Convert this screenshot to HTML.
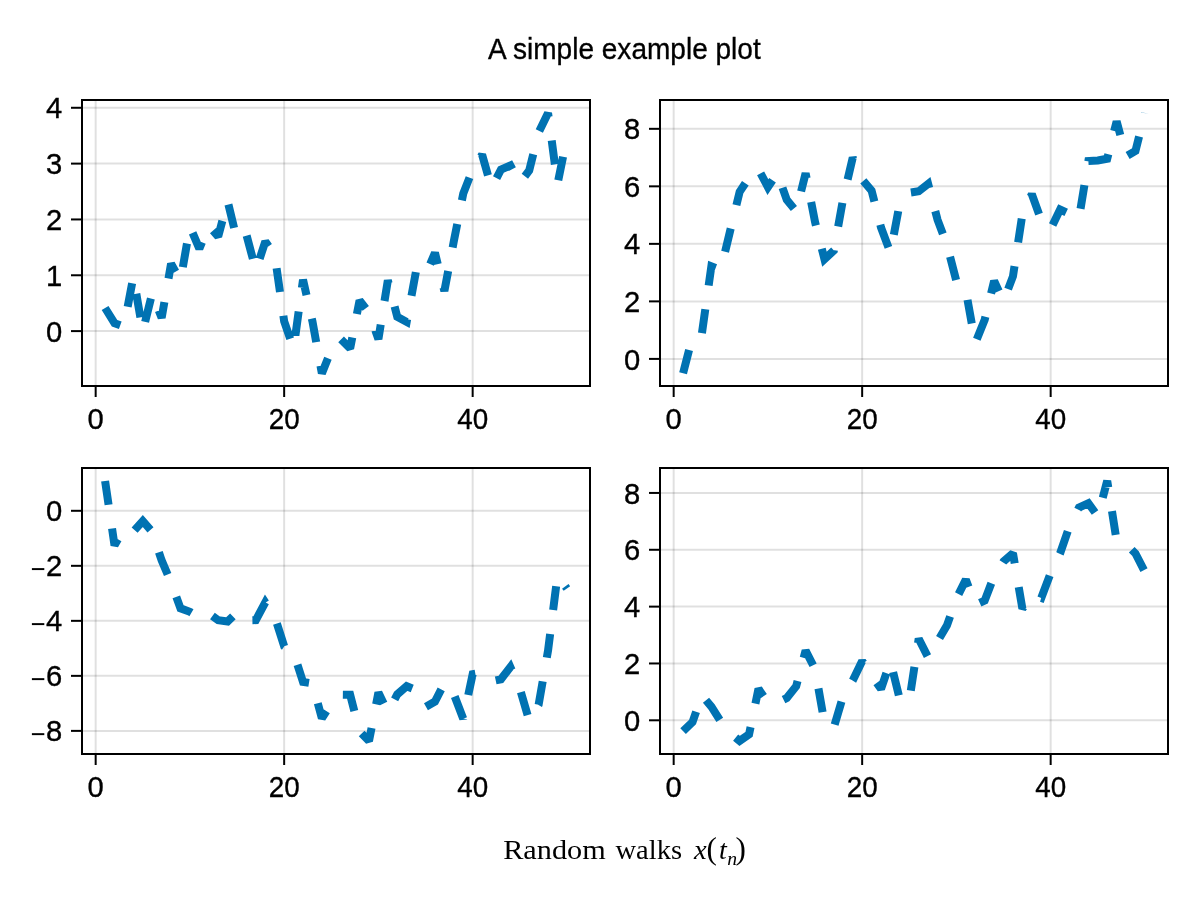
<!DOCTYPE html>
<html><head><meta charset="utf-8"><title>A simple example plot</title>
<style>
html,body{margin:0;padding:0;background:#fff;}
body{width:1200px;height:900px;overflow:hidden;}
svg{display:block;will-change:transform;}
.tx{filter:grayscale(1);}
.t{font-family:"Liberation Sans",sans-serif;font-size:29.2px;fill:#000;stroke:#000;stroke-width:0.35px;}
.s{font-family:"Liberation Serif",serif;font-size:28px;fill:#000;}
.i{font-style:italic;}
</style></head><body>
<svg width="1200" height="900" viewBox="0 0 1200 900">
<rect width="1200" height="900" fill="#fff"/>
<defs>
<clipPath id="c1"><rect x="82" y="100" width="508" height="286"/></clipPath>
<clipPath id="c2"><rect x="660" y="100" width="508" height="286"/></clipPath>
<clipPath id="c3"><rect x="82" y="468" width="508" height="286"/></clipPath>
<clipPath id="c4"><rect x="660" y="468" width="508" height="286"/></clipPath>
</defs>
<line x1="95.67" y1="100" x2="95.67" y2="386" stroke="#000" stroke-opacity="0.12" stroke-width="2"/>
<line x1="284.16" y1="100" x2="284.16" y2="386" stroke="#000" stroke-opacity="0.12" stroke-width="2"/>
<line x1="472.66" y1="100" x2="472.66" y2="386" stroke="#000" stroke-opacity="0.12" stroke-width="2"/>
<line x1="82" y1="331.10" x2="590" y2="331.10" stroke="#000" stroke-opacity="0.12" stroke-width="2"/>
<line x1="82" y1="275.27" x2="590" y2="275.27" stroke="#000" stroke-opacity="0.12" stroke-width="2"/>
<line x1="82" y1="219.44" x2="590" y2="219.44" stroke="#000" stroke-opacity="0.12" stroke-width="2"/>
<line x1="82" y1="163.61" x2="590" y2="163.61" stroke="#000" stroke-opacity="0.12" stroke-width="2"/>
<line x1="82" y1="107.78" x2="590" y2="107.78" stroke="#000" stroke-opacity="0.12" stroke-width="2"/>
<line x1="673.67" y1="100" x2="673.67" y2="386" stroke="#000" stroke-opacity="0.12" stroke-width="2"/>
<line x1="862.16" y1="100" x2="862.16" y2="386" stroke="#000" stroke-opacity="0.12" stroke-width="2"/>
<line x1="1050.66" y1="100" x2="1050.66" y2="386" stroke="#000" stroke-opacity="0.12" stroke-width="2"/>
<line x1="660" y1="358.90" x2="1168" y2="358.90" stroke="#000" stroke-opacity="0.12" stroke-width="2"/>
<line x1="660" y1="301.38" x2="1168" y2="301.38" stroke="#000" stroke-opacity="0.12" stroke-width="2"/>
<line x1="660" y1="243.86" x2="1168" y2="243.86" stroke="#000" stroke-opacity="0.12" stroke-width="2"/>
<line x1="660" y1="186.34" x2="1168" y2="186.34" stroke="#000" stroke-opacity="0.12" stroke-width="2"/>
<line x1="660" y1="128.82" x2="1168" y2="128.82" stroke="#000" stroke-opacity="0.12" stroke-width="2"/>
<line x1="95.67" y1="468" x2="95.67" y2="754" stroke="#000" stroke-opacity="0.12" stroke-width="2"/>
<line x1="284.16" y1="468" x2="284.16" y2="754" stroke="#000" stroke-opacity="0.12" stroke-width="2"/>
<line x1="472.66" y1="468" x2="472.66" y2="754" stroke="#000" stroke-opacity="0.12" stroke-width="2"/>
<line x1="82" y1="730.88" x2="590" y2="730.88" stroke="#000" stroke-opacity="0.12" stroke-width="2"/>
<line x1="82" y1="675.86" x2="590" y2="675.86" stroke="#000" stroke-opacity="0.12" stroke-width="2"/>
<line x1="82" y1="620.84" x2="590" y2="620.84" stroke="#000" stroke-opacity="0.12" stroke-width="2"/>
<line x1="82" y1="565.82" x2="590" y2="565.82" stroke="#000" stroke-opacity="0.12" stroke-width="2"/>
<line x1="82" y1="510.80" x2="590" y2="510.80" stroke="#000" stroke-opacity="0.12" stroke-width="2"/>
<line x1="673.67" y1="468" x2="673.67" y2="754" stroke="#000" stroke-opacity="0.12" stroke-width="2"/>
<line x1="862.16" y1="468" x2="862.16" y2="754" stroke="#000" stroke-opacity="0.12" stroke-width="2"/>
<line x1="1050.66" y1="468" x2="1050.66" y2="754" stroke="#000" stroke-opacity="0.12" stroke-width="2"/>
<line x1="660" y1="720.30" x2="1168" y2="720.30" stroke="#000" stroke-opacity="0.12" stroke-width="2"/>
<line x1="660" y1="663.46" x2="1168" y2="663.46" stroke="#000" stroke-opacity="0.12" stroke-width="2"/>
<line x1="660" y1="606.62" x2="1168" y2="606.62" stroke="#000" stroke-opacity="0.12" stroke-width="2"/>
<line x1="660" y1="549.78" x2="1168" y2="549.78" stroke="#000" stroke-opacity="0.12" stroke-width="2"/>
<line x1="660" y1="492.94" x2="1168" y2="492.94" stroke="#000" stroke-opacity="0.12" stroke-width="2"/>
<polyline clip-path="url(#c1)" points="105.09,308.00 114.52,323.20 123.94,326.60 133.37,276.70 142.79,331.40 152.22,293.20 161.64,317.90 171.06,263.80 180.49,280.70 189.91,226.60 199.34,248.60 208.76,225.90 218.19,236.50 227.61,201.10 237.04,240.00 246.46,234.90 255.89,270.30 265.31,241.50 274.74,255.20 284.16,321.30 293.59,348.70 303.01,279.70 312.44,321.40 321.86,373.40 331.29,350.10 340.71,339.00 350.14,348.50 359.56,300.40 368.99,312.60 378.41,339.10 387.84,280.30 397.26,316.80 406.69,321.90 416.11,270.60 425.54,275.20 434.96,252.80 444.39,291.00 453.81,241.30 463.24,193.60 472.66,169.50 482.09,154.60 491.51,187.90 500.94,169.70 510.36,165.50 519.78,182.90 529.21,170.50 538.63,132.40 548.06,112.90 557.48,184.20 566.91,137.90" fill="none" stroke="#0072B2" stroke-width="8" stroke-dasharray="24 24" stroke-linejoin="miter" stroke-miterlimit="2" stroke-linecap="butt"/>
<polyline clip-path="url(#c2)" points="683.09,373.20 692.52,336.50 701.94,333.20 711.37,266.30 720.79,269.80 730.22,230.50 739.64,191.90 749.06,177.60 758.49,169.20 767.91,187.20 777.34,173.20 786.76,199.80 796.19,211.20 805.61,173.20 815.04,222.00 824.46,259.20 833.89,250.50 843.31,197.80 852.74,157.70 862.16,179.60 871.59,190.60 881.01,227.50 890.44,252.70 899.86,202.60 909.29,192.70 918.71,191.30 928.14,183.90 937.56,219.80 946.99,244.90 956.41,281.10 965.84,290.50 975.26,343.00 984.69,319.80 994.11,281.00 1003.54,301.20 1012.96,276.30 1022.39,214.40 1031.81,194.10 1041.24,220.30 1050.66,229.10 1060.09,209.50 1069.51,214.00 1078.94,218.50 1088.36,161.00 1097.78,160.40 1107.21,158.80 1116.63,121.40 1126.06,156.40 1135.48,150.90 1144.91,113.00" fill="none" stroke="#0072B2" stroke-width="8" stroke-dasharray="24 24" stroke-linejoin="miter" stroke-miterlimit="2" stroke-linecap="butt"/>
<polyline clip-path="url(#c3)" points="105.09,481.00 114.52,545.30 123.94,528.50 133.37,531.50 142.79,521.00 152.22,531.90 161.64,560.40 171.06,582.50 180.49,608.30 189.91,611.80 199.34,617.40 208.76,613.30 218.19,620.20 227.61,621.50 237.04,612.40 246.46,620.30 255.89,620.10 265.31,602.30 274.74,616.70 284.16,646.30 293.59,652.80 303.01,681.90 312.44,683.40 321.86,718.20 331.29,703.80 340.71,694.70 350.14,694.80 359.56,731.30 368.99,741.10 378.41,692.60 387.84,712.00 397.26,694.40 406.69,686.20 416.11,690.00 425.54,706.90 434.96,701.60 444.39,683.20 453.81,694.10 463.24,718.70 472.66,674.20 482.09,672.50 491.51,681.30 500.94,679.30 510.36,667.10 519.78,688.40 529.21,720.70 538.63,704.70 548.06,650.50 557.48,575.60 566.91,588.50" fill="none" stroke="#0072B2" stroke-width="8" stroke-dasharray="24 24" stroke-linejoin="miter" stroke-miterlimit="2" stroke-linecap="butt"/>
<polyline clip-path="url(#c4)" points="683.09,731.20 692.52,722.00 701.94,695.20 711.37,706.70 720.79,721.40 730.22,733.20 739.64,740.90 749.06,734.40 758.49,688.90 767.91,702.50 777.34,702.70 786.76,698.00 796.19,686.20 805.61,650.60 815.04,669.00 824.46,722.80 833.89,727.30 843.31,695.50 852.74,680.60 862.16,661.10 871.59,675.90 881.01,688.90 890.44,661.10 899.86,699.70 909.29,700.60 918.71,638.70 928.14,657.40 937.56,641.30 946.99,625.30 956.41,598.50 965.84,579.60 975.26,604.80 984.69,600.60 994.11,575.90 1003.54,561.40 1012.96,553.20 1022.39,608.60 1031.81,595.20 1041.24,598.00 1050.66,573.00 1060.09,553.40 1069.51,526.10 1078.94,507.60 1088.36,503.20 1097.78,516.30 1107.21,480.90 1116.63,540.80 1126.06,543.90 1135.48,553.50 1144.91,571.90" fill="none" stroke="#0072B2" stroke-width="8" stroke-dasharray="24 24" stroke-linejoin="miter" stroke-miterlimit="2" stroke-linecap="butt"/>
<line x1="95.67" y1="387" x2="95.67" y2="397" stroke="#000" stroke-width="2"/>
<line x1="284.16" y1="387" x2="284.16" y2="397" stroke="#000" stroke-width="2"/>
<line x1="472.66" y1="387" x2="472.66" y2="397" stroke="#000" stroke-width="2"/>
<line x1="71" y1="331.10" x2="81" y2="331.10" stroke="#000" stroke-width="2"/>
<line x1="71" y1="275.27" x2="81" y2="275.27" stroke="#000" stroke-width="2"/>
<line x1="71" y1="219.44" x2="81" y2="219.44" stroke="#000" stroke-width="2"/>
<line x1="71" y1="163.61" x2="81" y2="163.61" stroke="#000" stroke-width="2"/>
<line x1="71" y1="107.78" x2="81" y2="107.78" stroke="#000" stroke-width="2"/>
<rect x="82" y="100" width="508" height="286" fill="none" stroke="#000" stroke-width="2"/>
<line x1="673.67" y1="387" x2="673.67" y2="397" stroke="#000" stroke-width="2"/>
<line x1="862.16" y1="387" x2="862.16" y2="397" stroke="#000" stroke-width="2"/>
<line x1="1050.66" y1="387" x2="1050.66" y2="397" stroke="#000" stroke-width="2"/>
<line x1="649" y1="358.90" x2="659" y2="358.90" stroke="#000" stroke-width="2"/>
<line x1="649" y1="301.38" x2="659" y2="301.38" stroke="#000" stroke-width="2"/>
<line x1="649" y1="243.86" x2="659" y2="243.86" stroke="#000" stroke-width="2"/>
<line x1="649" y1="186.34" x2="659" y2="186.34" stroke="#000" stroke-width="2"/>
<line x1="649" y1="128.82" x2="659" y2="128.82" stroke="#000" stroke-width="2"/>
<rect x="660" y="100" width="508" height="286" fill="none" stroke="#000" stroke-width="2"/>
<line x1="95.67" y1="755" x2="95.67" y2="765" stroke="#000" stroke-width="2"/>
<line x1="284.16" y1="755" x2="284.16" y2="765" stroke="#000" stroke-width="2"/>
<line x1="472.66" y1="755" x2="472.66" y2="765" stroke="#000" stroke-width="2"/>
<line x1="71" y1="730.88" x2="81" y2="730.88" stroke="#000" stroke-width="2"/>
<rect x="31.9" y="733.18" width="12.4" height="1.95" fill="#000"/>
<line x1="71" y1="675.86" x2="81" y2="675.86" stroke="#000" stroke-width="2"/>
<rect x="31.9" y="678.16" width="12.4" height="1.95" fill="#000"/>
<line x1="71" y1="620.84" x2="81" y2="620.84" stroke="#000" stroke-width="2"/>
<rect x="31.9" y="623.14" width="12.4" height="1.95" fill="#000"/>
<line x1="71" y1="565.82" x2="81" y2="565.82" stroke="#000" stroke-width="2"/>
<rect x="31.9" y="568.12" width="12.4" height="1.95" fill="#000"/>
<line x1="71" y1="510.80" x2="81" y2="510.80" stroke="#000" stroke-width="2"/>
<rect x="82" y="468" width="508" height="286" fill="none" stroke="#000" stroke-width="2"/>
<line x1="673.67" y1="755" x2="673.67" y2="765" stroke="#000" stroke-width="2"/>
<line x1="862.16" y1="755" x2="862.16" y2="765" stroke="#000" stroke-width="2"/>
<line x1="1050.66" y1="755" x2="1050.66" y2="765" stroke="#000" stroke-width="2"/>
<line x1="649" y1="720.30" x2="659" y2="720.30" stroke="#000" stroke-width="2"/>
<line x1="649" y1="663.46" x2="659" y2="663.46" stroke="#000" stroke-width="2"/>
<line x1="649" y1="606.62" x2="659" y2="606.62" stroke="#000" stroke-width="2"/>
<line x1="649" y1="549.78" x2="659" y2="549.78" stroke="#000" stroke-width="2"/>
<line x1="649" y1="492.94" x2="659" y2="492.94" stroke="#000" stroke-width="2"/>
<rect x="660" y="468" width="508" height="286" fill="none" stroke="#000" stroke-width="2"/>
<g class="tx">
<text x="95.67" y="428.9" text-anchor="middle" class="t">0</text>
<text x="284.16" y="428.9" text-anchor="middle" class="t" textLength="30.9" lengthAdjust="spacingAndGlyphs">20</text>
<text x="472.66" y="428.9" text-anchor="middle" class="t" textLength="30.9" lengthAdjust="spacingAndGlyphs">40</text>
<text x="62.2" y="341.70" text-anchor="end" class="t">0</text>
<text x="62.2" y="285.87" text-anchor="end" class="t">1</text>
<text x="62.2" y="230.04" text-anchor="end" class="t">2</text>
<text x="62.2" y="174.21" text-anchor="end" class="t">3</text>
<text x="62.2" y="118.38" text-anchor="end" class="t">4</text>
<text x="673.67" y="428.9" text-anchor="middle" class="t">0</text>
<text x="862.16" y="428.9" text-anchor="middle" class="t" textLength="30.9" lengthAdjust="spacingAndGlyphs">20</text>
<text x="1050.66" y="428.9" text-anchor="middle" class="t" textLength="30.9" lengthAdjust="spacingAndGlyphs">40</text>
<text x="640.2" y="369.50" text-anchor="end" class="t">0</text>
<text x="640.2" y="311.98" text-anchor="end" class="t">2</text>
<text x="640.2" y="254.46" text-anchor="end" class="t">4</text>
<text x="640.2" y="196.94" text-anchor="end" class="t">6</text>
<text x="640.2" y="139.42" text-anchor="end" class="t">8</text>
<text x="95.67" y="796.9" text-anchor="middle" class="t">0</text>
<text x="284.16" y="796.9" text-anchor="middle" class="t" textLength="30.9" lengthAdjust="spacingAndGlyphs">20</text>
<text x="472.66" y="796.9" text-anchor="middle" class="t" textLength="30.9" lengthAdjust="spacingAndGlyphs">40</text>
<text x="62.2" y="741.48" text-anchor="end" class="t">8</text>
<text x="62.2" y="686.46" text-anchor="end" class="t">6</text>
<text x="62.2" y="631.44" text-anchor="end" class="t">4</text>
<text x="62.2" y="576.42" text-anchor="end" class="t">2</text>
<text x="62.2" y="521.40" text-anchor="end" class="t">0</text>
<text x="673.67" y="796.9" text-anchor="middle" class="t">0</text>
<text x="862.16" y="796.9" text-anchor="middle" class="t" textLength="30.9" lengthAdjust="spacingAndGlyphs">20</text>
<text x="1050.66" y="796.9" text-anchor="middle" class="t" textLength="30.9" lengthAdjust="spacingAndGlyphs">40</text>
<text x="640.2" y="730.90" text-anchor="end" class="t">0</text>
<text x="640.2" y="674.06" text-anchor="end" class="t">2</text>
<text x="640.2" y="617.22" text-anchor="end" class="t">4</text>
<text x="640.2" y="560.38" text-anchor="end" class="t">6</text>
<text x="640.2" y="503.54" text-anchor="end" class="t">8</text>
<text x="624.4" y="58.5" text-anchor="middle" class="t" textLength="272.6" lengthAdjust="spacingAndGlyphs">A simple example plot</text>
<text x="503.2" y="859" class="s" textLength="102.5" lengthAdjust="spacingAndGlyphs">Random</text>
<text x="615.5" y="859" class="s" textLength="66.5" lengthAdjust="spacingAndGlyphs">walks</text>
<text x="694" y="859" class="s i" textLength="12.7" lengthAdjust="spacingAndGlyphs">x</text>
<text x="706.6" y="859" class="s" style="font-size:31.2px">(</text>
<text x="719" y="859" class="s i">t</text>
<text x="727.3" y="864.8" class="s i" style="font-size:19.6px">n</text>
<text x="735.4" y="859" class="s" style="font-size:31.2px">)</text>
</g>
</svg>
</body></html>
